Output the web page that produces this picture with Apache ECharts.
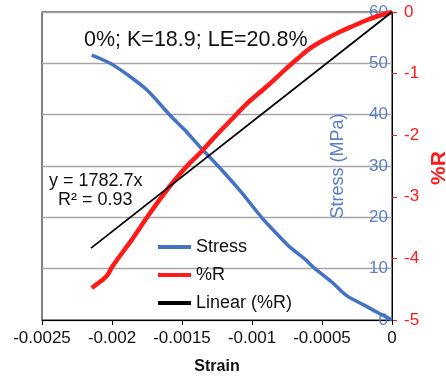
<!DOCTYPE html>
<html>
<head>
<meta charset="utf-8">
<script src="https://cdn.jsdelivr.net/npm/echarts@6/dist/echarts.min.js"></script>
<style>
  html, body { margin: 0; padding: 0; background: #fff; }
  #chart { width: 446px; height: 380px; }
</style>
</head>
<body>
<div id="chart"></div>
<script>
// Strain axis ticks
var strainTicks = [-0.0025, -0.002, -0.0015, -0.001, -0.0005, 0];

// Stress (MPa) vs strain
var stressStrain = [-0.002145, -0.00205, -0.001993, -0.00188, -0.00175, -0.001586, -0.00148, -0.001371,
  -0.001229, -0.00108, -0.000929, -0.00083, -0.000729, -0.00062, -0.00055, -0.00043, -0.000321,
  -0.0002, -0.0001, 0];
var stressValues = [51.6, 50.5, 49.7, 47.6, 44.8, 39.9, 37.0, 33.7,
  29.6, 25.0, 19.9, 17.0, 14.2, 11.8, 10.0, 7.4, 4.7,
  2.9, 1.4, 0];

// %R vs strain
var rStrain = [-0.002145, -0.002086, -0.002057, -0.002026, -0.002, -0.001966, -0.001859, -0.001752,
  -0.001645, -0.001538, -0.001443, -0.001371, -0.001279, -0.001157, -0.001038, -0.000895,
  -0.000752, -0.000671, -0.000586, -0.0005, -0.000371, -0.000271, -0.000179, -0.000086, 0];
var rValues = [-4.48, -4.38, -4.33, -4.25, -4.14, -4.03, -3.70, -3.34,
  -3.00, -2.69, -2.45, -2.29, -2.06, -1.77, -1.49, -1.21,
  -0.91, -0.75, -0.59, -0.47, -0.32, -0.22, -0.13, -0.057, 0];

// Linear trend of %R through the origin
var trendSlope = 1782.7;
var trendR2 = 0.93;
var trendRange = [-0.00215, 0];

var titleText = '0%; K=18.9; LE=20.8%';

var BLUE = '#4472C4';
var BLUE_TXT = '#5A7EC6';
var RED = '#FF1A1A';
var FONT = '"Liberation Sans", Arial, sans-serif';

function pairs(xs, ys) {
  return xs.map(function (x, i) { return [x, ys[i]]; });
}
var trendData = trendRange.map(function (x) { return [x, trendSlope * x]; });

var chart = echarts.init(document.getElementById('chart'));
chart.setOption({
  animation: false,
  textStyle: { fontFamily: FONT },
  title: {
    text: titleText,
    left: 79, top: 24,
    textStyle: { fontSize: 21.5, fontWeight: 'normal', color: '#111', fontFamily: FONT }
  },
  grid: {
    left: 42, right: 54, top: 12, bottom: 60,
    containLabel: false, outerBoundsMode: 'none',
    show: true, borderColor: '#000', borderWidth: 1, backgroundColor: 'transparent'
  },
  legend: {
    orient: 'vertical',
    left: 153, top: 233,
    icon: 'rect',
    itemWidth: 33, itemHeight: 4, itemGap: 10,
    textStyle: { fontSize: 18, color: '#111', fontFamily: FONT, lineHeight: 18 },
    data: ['Stress', '%R', 'Linear (%R)']
  },
  xAxis: {
    type: 'value',
    min: strainTicks[0], max: strainTicks[strainTicks.length - 1], interval: 0.0005,
    name: 'Strain', nameLocation: 'middle', nameGap: 39,
    nameTextStyle: { fontSize: 16, fontWeight: 'bold', color: '#111' },
    axisLine: { lineStyle: { color: '#000' } },
    axisTick: { show: true, length: 5, lineStyle: { color: '#000' } },
    axisLabel: {
      fontSize: 17, color: '#111', margin: 10,
      formatter: function (v) { return String(parseFloat(v.toPrecision(6))); }
    },
    splitLine: { show: false }
  },
  yAxis: [
    {
      type: 'value', position: 'right',
      min: 0, max: 60, interval: 10,
      name: 'Stress (MPa)', nameLocation: 'middle', nameRotate: 90, nameGap: -54,
      nameTextStyle: { fontSize: 18, color: BLUE_TXT, verticalAlign: 'middle' },
      axisLine: { show: false },
      axisTick: { show: false },
      axisLabel: { inside: true, fontSize: 17, color: BLUE_TXT, margin: 4 },
      splitLine: { show: true, lineStyle: { color: '#A6A6A6', width: 1.3 } }
    },
    {
      type: 'value', position: 'right',
      min: -5, max: 0, interval: 1,
      axisLine: { show: true, lineStyle: { color: '#000' } },
      axisTick: { show: true, length: 5, lineStyle: { color: RED } },
      axisLabel: { fontSize: 17, color: RED, margin: 12 },
      splitLine: { show: false }
    }
  ],
  graphic: [
    {
      type: 'text', left: 49, top: 172,
      style: { text: 'y = 1782.7x', font: '18px ' + FONT, fill: '#111' }
    },
    {
      type: 'text', left: 58, top: 191,
      style: { text: 'R² = ' + trendR2.toFixed(2), font: '18px ' + FONT, fill: '#111' }
    },
    {
      // title of the %R axis, read bottom-to-top
      type: 'text', x: 439, y: 168, rotation: Math.PI / 2,
      style: {
        text: '%R', font: 'bold 21px ' + FONT, fill: RED,
        textAlign: 'center', textVerticalAlign: 'middle'
      }
    }
  ],
  series: [
    {
      name: 'Stress', type: 'line', yAxisIndex: 0,
      data: pairs(stressStrain, stressValues),
      smooth: 0.3, symbol: 'none',
      lineStyle: { color: BLUE, width: 3.5 }, itemStyle: { color: BLUE }
    },
    {
      name: '%R', type: 'line', yAxisIndex: 1,
      data: pairs(rStrain, rValues),
      smooth: 0.3, symbol: 'none',
      lineStyle: { color: RED, width: 4.5 }, itemStyle: { color: RED }
    },
    {
      name: 'Linear (%R)', type: 'line', yAxisIndex: 1,
      data: trendData,
      symbol: 'none',
      lineStyle: { color: '#000', width: 1.8 }, itemStyle: { color: '#000' }
    }
  ]
});
</script>
</body>
</html>
